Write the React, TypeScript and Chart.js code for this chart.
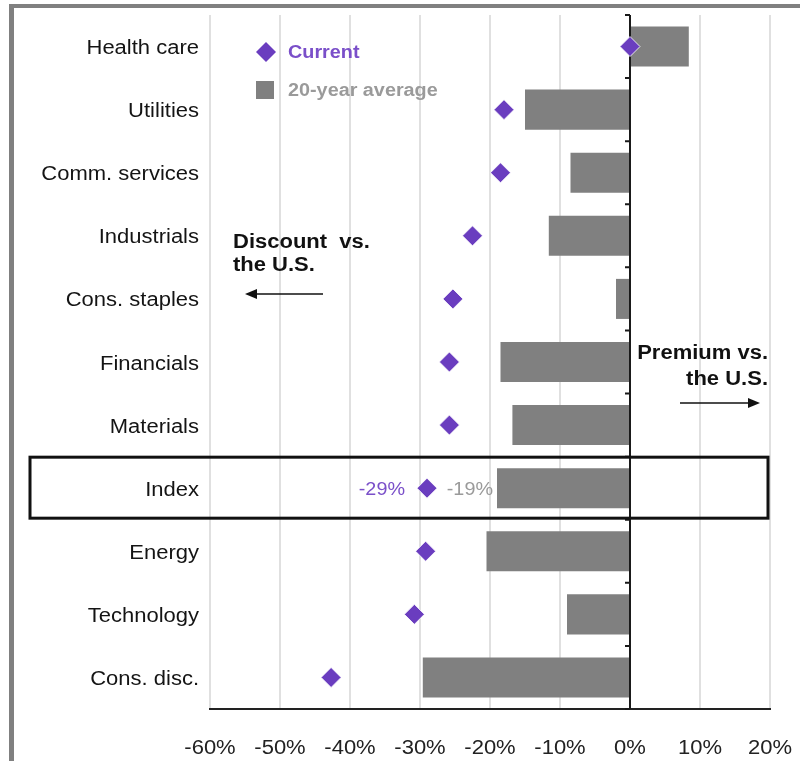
import React, { useEffect, useRef } from "react";
import { Chart, registerables } from "chart.js";

Chart.register(...registerables);

// Sector valuations relative to the U.S. (%)
const categories = [
  "Health care",
  "Utilities",
  "Comm. services",
  "Industrials",
  "Cons. staples",
  "Financials",
  "Materials",
  "Index",
  "Energy",
  "Technology",
  "Cons. disc.",
];
const average20y = [8.4, -15, -8.5, -11.6, -2, -18.5, -16.8, -19, -20.5, -9, -29.6];
const current = [0, -18, -18.5, -22.5, -25.3, -25.8, -25.8, -29, -29.2, -30.8, -42.7];
const xTicks = [-60, -50, -40, -30, -20, -10, 0, 10, 20];
const highlighted = "Index";

const PURPLE = "#6a3dbf";
const PURPLE_TEXT = "#7a4fc9";
const BAR_GRAY = "#808080";
const LIGHT_GRAY_TEXT = "#9a9a9a";
const FONT = '"Liberation Sans", Arial, sans-serif';
const SX = 1.1; // horizontal stretch of lettering

function drawText(
  ctx: CanvasRenderingContext2D,
  text: string,
  x: number,
  y: number,
  font: string,
  color: string,
  align: "left" | "right" | "center"
) {
  ctx.save();
  ctx.font = font;
  ctx.fillStyle = color;
  ctx.textBaseline = "middle";
  ctx.textAlign = "left";
  const w = ctx.measureText(text).width * SX;
  const left = align === "left" ? x : align === "right" ? x - w : x - w / 2;
  ctx.translate(left, y);
  ctx.scale(SX, 1);
  ctx.fillText(text, 0, 0);
  ctx.restore();
}

function arrow(ctx: CanvasRenderingContext2D, x1: number, x2: number, y: number) {
  const dir = Math.sign(x2 - x1);
  ctx.save();
  ctx.strokeStyle = "#111";
  ctx.fillStyle = "#111";
  ctx.lineWidth = 1.5;
  ctx.beginPath();
  ctx.moveTo(x1, y);
  ctx.lineTo(x2 - dir * 10, y);
  ctx.stroke();
  ctx.beginPath();
  ctx.moveTo(x2, y);
  ctx.lineTo(x2 - dir * 12, y - 5);
  ctx.lineTo(x2 - dir * 12, y + 5);
  ctx.closePath();
  ctx.fill();
  ctx.restore();
}

const pct = (v: number) => `${Math.round(v)}%`;

const decorations = {
  id: "decorations",
  afterDatasetDraw(chart: any, args: any) {
    if (args.index !== 0) return;
    // zero line with category tick marks, over the bars and under the markers
    const { ctx, chartArea } = chart;
    const x0 = chart.scales.x.getPixelForValue(0);
    const step = (chartArea.bottom - chartArea.top) / categories.length;
    ctx.save();
    ctx.strokeStyle = "#1a1a1a";
    ctx.lineWidth = 2;
    ctx.beginPath();
    ctx.moveTo(x0, chartArea.top);
    ctx.lineTo(x0, chartArea.bottom);
    for (let i = 0; i <= categories.length; i++) {
      const y = chartArea.top + i * step;
      ctx.moveTo(x0 - 5, y);
      ctx.lineTo(x0, y);
    }
    ctx.stroke();
    ctx.restore();
  },
  afterDraw(chart: any) {
    const { ctx, chartArea } = chart;
    const xs = chart.scales.x;
    const ys = chart.scales.y;

    // category labels
    categories.forEach((c, i) => {
      drawText(ctx, c, chartArea.left - 11, ys.getPixelForValue(i) + 2, `20px ${FONT}`, "#141414", "right");
    });
    // value axis labels
    xTicks.forEach((v) => {
      drawText(ctx, pct(v), xs.getPixelForValue(v), chartArea.bottom + 39, `20px ${FONT}`, "#222", "center");
    });

    // legend
    ctx.save();
    ctx.fillStyle = PURPLE;
    ctx.beginPath();
    ctx.moveTo(256, 52);
    ctx.lineTo(266, 42);
    ctx.lineTo(276, 52);
    ctx.lineTo(266, 62);
    ctx.closePath();
    ctx.fill();
    ctx.fillStyle = BAR_GRAY;
    ctx.fillRect(256, 81, 18, 18);
    ctx.restore();
    drawText(ctx, "Current", 288, 53, `bold 18px ${FONT}`, PURPLE_TEXT, "left");
    drawText(ctx, "20-year average", 288, 91, `bold 18px ${FONT}`, LIGHT_GRAY_TEXT, "left");

    // highlighted row
    const hi = categories.indexOf(highlighted);
    const yHi = ys.getPixelForValue(hi);
    ctx.save();
    ctx.strokeStyle = "#111";
    ctx.lineWidth = 3;
    ctx.strokeRect(30, yHi - 31, 738, 61);
    ctx.restore();
    drawText(ctx, pct(current[hi]), xs.getPixelForValue(current[hi]) - 22, yHi + 2, `18px ${FONT}`, PURPLE_TEXT, "right");
    drawText(ctx, pct(average20y[hi]), xs.getPixelForValue(average20y[hi]) - 4, yHi + 2, `18px ${FONT}`, LIGHT_GRAY_TEXT, "right");

    // direction notes
    drawText(ctx, "Discount  vs.", 233, 242, `bold 20px ${FONT}`, "#111", "left");
    drawText(ctx, "the U.S.", 233, 265, `bold 20px ${FONT}`, "#111", "left");
    arrow(ctx, 323, 245, 294);
    drawText(ctx, "Premium vs.", 768, 353, `bold 20px ${FONT}`, "#111", "right");
    drawText(ctx, "the U.S.", 768, 379, `bold 20px ${FONT}`, "#111", "right");
    arrow(ctx, 680, 760, 403);

    // outer frame
    ctx.save();
    ctx.fillStyle = "#808080";
    ctx.fillRect(9, 4, 791, 4);
    ctx.fillRect(9, 4, 5, 757);
    ctx.restore();
  },
};

export default function App() {
  const canvasRef = useRef<HTMLCanvasElement | null>(null);

  useEffect(() => {
    if (!canvasRef.current) return;
    const chart = new Chart(canvasRef.current, {
      type: "bar",
      data: {
        labels: categories,
        datasets: [
          {
            type: "bar",
            label: "20-year average",
            data: average20y,
            backgroundColor: BAR_GRAY,
            borderWidth: 0,
            categoryPercentage: 1,
            barPercentage: 0.635,
            order: 1,
          },
          {
            type: "line",
            label: "Current",
            data: current,
            indexAxis: "y",
            showLine: false,
            pointStyle: "rectRot",
            pointRadius: 10,
            pointBackgroundColor: PURPLE,
            pointBorderColor: "rgba(255,255,255,0.8)",
            pointBorderWidth: 1,
            order: 0,
          } as any,
        ],
      },
      options: {
        indexAxis: "y",
        animation: false,
        responsive: true,
        maintainAspectRatio: false,
        layout: { padding: { top: 15, right: 30, left: 0, bottom: 0 } },
        plugins: { legend: { display: false }, tooltip: { enabled: false } },
        scales: {
          x: {
            type: "linear",
            min: -60,
            max: 20,
            ticks: { stepSize: 10, display: false },
            grid: { color: "#e0e0e0", lineWidth: 2, drawTicks: false },
            border: { display: true, color: "#222", width: 2 },
            afterFit: (scale: any) => {
              scale.height = 52;
            },
          },
          y: {
            type: "category",
            ticks: { display: false },
            grid: { display: false, drawTicks: false },
            border: { display: false },
            afterFit: (scale: any) => {
              scale.width = 210;
            },
          },
        },
      },
      plugins: [decorations],
    });
    return () => chart.destroy();
  }, []);

  return (
    <div style={{ position: "absolute", left: 0, top: 0, width: 800, height: 761, background: "#fff" }}>
      <canvas ref={canvasRef} />
    </div>
  );
}
